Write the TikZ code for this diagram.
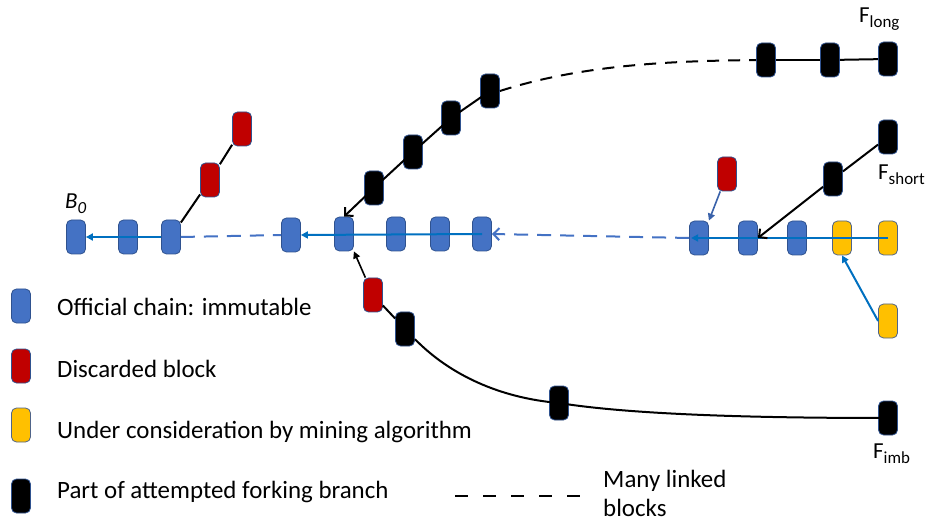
\documentclass[tikz,border=0pt]{standalone}
\usepackage{fontspec}
\setmainfont{Carlito}
\usetikzlibrary{arrows.meta}
\definecolor{bfill}{HTML}{4472C4}
\definecolor{bdraw}{HTML}{2F528F}
\definecolor{rfill}{HTML}{C00000}
\definecolor{yfill}{HTML}{FFC000}
\definecolor{chain}{HTML}{0070C0}
\definecolor{dashb}{HTML}{4472C4}
\definecolor{darr}{HTML}{3A62AA}
\tikzset{
  blk/.style={rectangle, rounded corners=5bp, minimum width=19bp, minimum height=34bp, inner sep=0pt, draw=bdraw, line width=0.8bp},
  bb/.style={blk, fill=bfill},
  rb/.style={blk, fill=rfill},
  yb/.style={blk, fill=yfill, draw=bdraw!60!gray},
  kb/.style={blk, fill=black},
  chainln/.style={draw=chain, line width=2bp},
  dashln/.style={draw=dashb, line width=2bp, dash pattern=on 14bp off 9bp},
  blackln/.style={draw=black, line width=2bp},
  ftip/.style={-{Triangle[length=7bp,width=7bp]}},
  vtip/.style={-{Straight Barb[length=6bp,width=12bp]}},
  legtext/.style={anchor=base west, inner sep=0pt, font=\fontsize{25}{30}\selectfont},
  flab/.style={anchor=base west, inner sep=0pt}
}
\newcommand{\Fbig}{\fontsize{23}{23}\selectfont}
\newcommand{\Fsub}{\fontsize{17}{17}\selectfont}
\begin{document}
\begin{tikzpicture}[x=1bp,y=-1bp]
\useasboundingbox (0,0) rectangle (927,522);
% main row blocks
\node[bb] (L1) at (76,237) {};
\node[bb] (L2) at (128,237) {};
\node[bb] (L3) at (171,237) {};
\node[bb] (M0) at (291,235) {};
\node[bb] (M1) at (344,234) {};
\node[bb] (M2) at (396,234) {};
\node[bb] (M3) at (440,234) {};
\node[bb] (M4) at (482,234) {};
\node[bb] (R1) at (699,238) {};
\node[bb] (R2) at (748,238) {};
\node[bb] (R3) at (797,238) {};
\node[yb] (Y1) at (842,238) {};
\node[yb] (Y2) at (888,238) {};
\node[yb] (Y3) at (888,321) {};
% discarded
\node[rb] (D1) at (210,180) {};
\node[rb] (D2) at (242,129) {};
\node[rb] (D3) at (727,174) {};
\node[rb] (D4) at (373,295) {};
% forking
\node[kb] (K1) at (374,188) {};
\node[kb] (K2) at (413,152) {};
\node[kb] (K3) at (451,118) {};
\node[kb] (K4) at (490,91) {};
\node[kb] (K5) at (405,329) {};
\node[kb] (K6) at (833,179) {};
\node[kb] (K7) at (888,137) {};
\node[kb] (K8) at (559,403) {};
\node[kb] (K9) at (888,418) {};
\node[kb] (T1) at (766,60) {};
\node[kb] (T2) at (830,60) {};
\node[kb] (T3) at (888,59) {};
% main chain connectors
\draw[chainln, ftip] (L3.west) -- (L1.east);
\draw[dashln] (L3.east) -- (M0.west);
\draw[chainln, ftip] (M4.center) -- (M0.east);
\draw[dashln, vtip] (R1.west) -- (M4.east);
\draw[chainln, ftip] (Y2.center) -- ([xshift=2bp]R1.west);
% left discarded branch
\draw[blackln] (D2) -- (D1);
\draw[blackln] (D1) -- (L3);
% right discarded
\draw[draw=darr, line width=1.6bp, ftip] (D3) -- (R1.north east);
% yellow
\draw[chainln, ftip] (Y3.west) -- (Y1.south);
% F_short branch
\draw[blackln] (K7) -- (K6);
\draw[blackln, vtip] (K6) -- (R2.east);
% diagonal long branch
\draw[blackln, vtip] (K4.center) -- (K3.center) -- (K2.center) -- (K1.center) -- (M1.north);
\draw[blackln, dash pattern=on 12bp off 9bp] (K4.east) .. controls (590,62) and (690,61) .. (T1.west);
\draw[blackln] (T1) -- (T2);
\draw[blackln] (T2) -- (T3);
% bottom branch
\draw[draw=black, line width=1.6bp, ftip] (D4) -- (M1.south east);
\draw[blackln] (D4) -- (K5);
\draw[blackln] (K5) .. controls (450,375) and (500,398) .. (K8.center) .. controls (640,416) and (780,418) .. (K9.center);
% labels
\node[flab] (Fl) at (859,23) {\Fbig F\raisebox{-5bp}{\Fsub long}};
\node[flab] (Fs) at (878,180) {\Fbig F\raisebox{-5bp}{\Fsub short}};
\node[flab] (Fi) at (873,458) {\Fbig F\raisebox{-5bp}{\Fsub imb}};
\node[flab] (B0) at (65,209) {\itshape\fontsize{23}{23}\selectfont B\raisebox{-5bp}{\fontsize{17}{17}\selectfont 0}};
% legend
\node[bb] (G1) at (21,306) {};
\node[rb] (G2) at (21,366) {};
\node[yb] (G3) at (21,425) {};
\node[kb] (G4) at (21,496) {};
\node[legtext] (T1t) at (57,316) {Official chain: immutable};
\node[legtext] (T2t) at (57,377) {Discarded block};
\node[legtext] (T3t) at (57,438) {Under consideration by mining algorithm};
\node[legtext] (T4t) at (57,498) {Part of attempted forking branch};
\coordinate (ld1) at (455,496);
\coordinate (ld2) at (581,496);
\draw[black, line width=1.5bp, dash pattern=on 13bp off 15bp] (ld1) -- (ld2);
\node[legtext] (ML1) at (603,487) {Many linked};
\node[legtext] (ML2) at (603,516) {blocks};
\end{tikzpicture}
\end{document}
